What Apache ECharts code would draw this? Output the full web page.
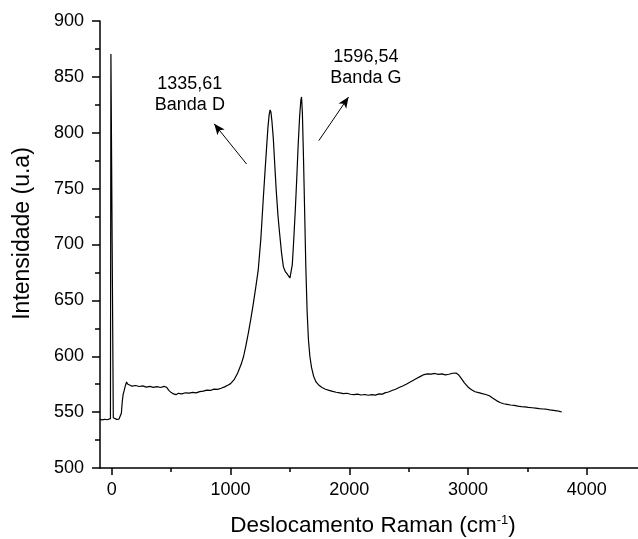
<!DOCTYPE html>
<html>
<head>
<meta charset="utf-8">
<script src="https://cdn.jsdelivr.net/npm/echarts@6/dist/echarts.min.js"></script>
<style>
  html, body { margin: 0; padding: 0; background: #fff; }
  #chart { width: 638px; height: 539px; }
</style>
</head>
<body>
<div id="chart"></div>
<script>
// Raman shift (cm^-1) and intensity (u.a) of the measured spectrum
const shift = [
  -100, -80, -60, -40, -25, -12, -8, 8, 12, 20, 40, 60, 72, 80, 88, 95, 103, 112, 124, 132, 140,
  170, 200, 230, 260, 290, 320, 350, 380, 410, 440, 460, 480, 500, 520, 540, 560, 590, 620, 650,
  680, 710, 740, 770, 800, 830, 860, 890, 920, 950, 980, 1000,
  1030, 1060, 1090, 1110, 1130, 1150, 1170, 1190, 1210, 1233, 1255, 1275, 1290, 1303, 1315, 1325,
  1333, 1340, 1348, 1360, 1372, 1385, 1400, 1415, 1430, 1445, 1460, 1475, 1490, 1500, 1510, 1520,
  1530, 1545, 1558, 1570, 1582, 1592, 1598, 1605, 1615, 1625, 1634, 1645, 1656, 1668, 1682, 1700,
  1720, 1745, 1770, 1800, 1830, 1860, 1890, 1920, 1950, 1980, 2010, 2040, 2070, 2100, 2130, 2160,
  2190, 2220, 2250, 2280, 2300, 2330, 2360, 2390, 2420, 2450, 2480, 2510, 2540, 2570, 2600, 2630,
  2660, 2690, 2720, 2750, 2780, 2810, 2840, 2870, 2900, 2920, 2945, 2970, 3000, 3030, 3060, 3090,
  3120, 3150, 3180, 3210, 3240, 3270, 3300, 3330, 3360, 3390, 3420, 3450, 3480, 3510, 3540, 3570,
  3600, 3630, 3660, 3690, 3720, 3750, 3780, 3790
];
const intensity = [
  543.5, 543.0, 543.6, 543.2, 543.8, 544.2, 870.5, 870.5, 545.0, 544.0, 543.5, 543.8, 544.6, 549, 560, 566, 569, 573, 577, 575.2, 574.5,
  573.2, 573.8, 572.9, 573.5, 572.4, 573.1, 572.2, 572.8, 572.0, 573.0, 572.3, 569.5, 567.5, 566.3, 565.6, 566.8, 566.4, 567.3, 567.0,
  567.6, 567.2, 568.3, 568.8, 569.7, 569.4, 570.6, 570.3, 571.4, 572.6, 574.2, 575.5,
  579, 585, 593, 600, 610, 621, 633, 646, 660, 677, 705, 740, 765, 786, 805, 816,
  820.5, 818.5, 811, 795, 772, 748, 725, 708, 692, 680, 676, 674, 672.5, 670, 671, 682,
  700, 730, 760, 790, 815, 829, 832, 818, 775, 725, 680, 640, 615, 600, 590, 582,
  577, 574, 572, 570.5, 569.5, 568.6, 567.8, 567.3, 566.6, 566.9, 566.0, 565.6, 566.1, 565.3, 565.8, 565.1,
  565.6, 565.2, 566.3, 566.1, 567.2, 568.0, 569.3, 570.5, 572.0, 573.4, 575.0, 576.8, 578.5, 580.3, 582.0, 583.6,
  584.3, 584.0, 584.6, 583.8, 584.2, 583.3, 583.9, 584.8, 585.0, 583.5, 580.0, 576.2, 572.5, 570.0, 568.2, 567.4,
  566.5, 565.8, 564.6, 562.5, 560.3, 558.6, 557.5, 557.0, 556.4, 556.0, 555.4, 555.0, 554.7, 554.2, 553.9, 553.6,
  553.1, 552.8, 552.6, 552.0, 551.6, 551.2, 550.4, 550.2
];

// Axis ticks
const xMajorTicks = [0, 1000, 2000, 3000, 4000];
const xMinorTicks = [500, 1500, 2500, 3500, 4500];

// Band annotations: label text, label anchor, arrow tail and arrow head
const bandLabels = ['1335,61\nBanda D', '1596,54\nBanda G'];
const labelAnchors = [[657, 834], [2140, 858]];
const arrowTails = [[1135, 772], [1744, 793]];
const arrowHeads = [[862, 808], [1994, 832]];

const chart = echarts.init(document.getElementById('chart'), null, { renderer: 'canvas' });

const axisFont = { color: '#000', fontFamily: 'Liberation Sans, Arial, sans-serif' };

chart.setOption({
  animation: false,
  backgroundColor: '#fff',
  grid: { left: 100, top: 21, right: -8, bottom: 71, containLabel: false, outerBoundsMode: 'none' },
  xAxis: [
    {
      type: 'value', position: 'bottom', min: -100, max: 4500,
      name: 'Deslocamento Raman (cm{sup|-1})',
      nameLocation: 'middle', nameGap: 46,
      nameTextStyle: Object.assign({}, axisFont, {
        fontSize: 22.5,
        rich: { sup: { fontSize: 13, verticalAlign: 'top', padding: [0, 0, 10, 0], color: '#000', fontFamily: axisFont.fontFamily } }
      }),
      axisLine: { show: true, onZero: false, lineStyle: { color: '#000', width: 1.5 } },
      axisTick: { show: true, length: 7, customValues: xMajorTicks, lineStyle: { color: '#000', width: 1.5 } },
      axisLabel: Object.assign({}, axisFont, { fontSize: 18, margin: 13, customValues: xMajorTicks, formatter: v => String(v) }),
      splitLine: { show: false }
    },
    {
      type: 'value', position: 'bottom', min: -100, max: 4500,
      axisLine: { show: false },
      axisTick: { show: true, length: 4, customValues: xMinorTicks, lineStyle: { color: '#000', width: 1.5 } },
      axisLabel: { show: false },
      splitLine: { show: false }
    }
  ],
  yAxis: {
    type: 'value', min: 500, max: 900, interval: 50,
    name: 'Intensidade (u.a)',
    nameLocation: 'middle', nameGap: 66,
    nameTextStyle: Object.assign({}, axisFont, { fontSize: 23, padding: [0, 0, 0, 22] }),
    axisLine: { show: true, onZero: false, lineStyle: { color: '#000', width: 1.5 } },
    axisTick: { show: true, length: 8, lineStyle: { color: '#000', width: 1.5 } },
    minorTick: { show: true, splitNumber: 2, length: 5, lineStyle: { color: '#000', width: 1.5 } },
    axisLabel: Object.assign({}, axisFont, { fontSize: 18, margin: 16 }),
    splitLine: { show: false },
    minorSplitLine: { show: false }
  },
  series: [{
    type: 'line',
    xAxisIndex: 0,
    data: shift.map((x, i) => [x, intensity[i]]),
    showSymbol: false,
    symbol: 'none',
    lineStyle: { color: '#000', width: 1.2 },
    silent: true,
    markLine: {
      silent: true,
      animation: false,
      symbolSize: [7, 11],
      label: { show: false },
      lineStyle: { color: '#000', width: 1, type: 'solid' },
      data: arrowTails.map((t, i) => [
        { coord: t, symbol: 'none' },
        { coord: arrowHeads[i], symbol: 'arrow' }
      ])
    },
    markPoint: {
      silent: true,
      animation: false,
      symbol: 'circle',
      symbolSize: 1,
      itemStyle: { color: 'rgba(0,0,0,0)' },
      label: Object.assign({}, axisFont, {
        show: true, position: 'inside', fontSize: 18, lineHeight: 21,
        align: 'center', formatter: p => p.name
      }),
      data: bandLabels.map((txt, i) => ({ name: txt, coord: labelAnchors[i] }))
    }
  }]
});
</script>
</body>
</html>
